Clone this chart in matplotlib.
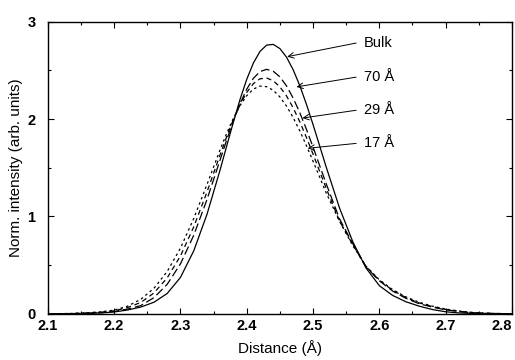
import matplotlib
matplotlib.use("Agg")
import matplotlib.pyplot as plt
from matplotlib.ticker import MultipleLocator

plt.rcParams['font.family'] = ['Liberation Sans', 'DejaVu Sans']

# distance grid (Angstrom), finer around the peak
distance = [2.10, 2.12, 2.14, 2.16, 2.18, 2.20, 2.22, 2.24, 2.26, 2.28,
            2.30, 2.32, 2.34,
            2.36, 2.37, 2.38, 2.39, 2.40, 2.41, 2.42, 2.43, 2.44, 2.45,
            2.46, 2.47, 2.48, 2.49, 2.50, 2.51, 2.52,
            2.54, 2.56, 2.58, 2.60, 2.62, 2.64, 2.66, 2.68, 2.70, 2.72,
            2.74, 2.76, 2.78, 2.80]

# normalised intensities
bulk = [0.0, 0.001, 0.002, 0.005, 0.010, 0.020, 0.040, 0.070, 0.120, 0.210,
        0.375, 0.647, 1.022,
        1.483, 1.730, 1.973, 2.204, 2.408, 2.575, 2.694, 2.759, 2.766, 2.723,
        2.635, 2.506, 2.343, 2.152, 1.943, 1.724, 1.504,
        1.086, 0.740, 0.470, 0.290, 0.190, 0.125, 0.080, 0.045, 0.022, 0.010,
        0.005, 0.002, 0.001, 0.0]

a70 = [0.0, 0.001, 0.003, 0.007, 0.013, 0.025, 0.050, 0.085, 0.167, 0.304,
       0.514, 0.807, 1.174,
       1.585, 1.790, 1.985, 2.160, 2.307, 2.418, 2.487, 2.510, 2.490, 2.433,
       2.340, 2.215, 2.065, 1.895, 1.712, 1.522, 1.333,
       0.975, 0.720, 0.480, 0.340, 0.235, 0.160, 0.105, 0.070, 0.042, 0.024,
       0.012, 0.006, 0.003, 0.001]

a29 = [0.0, 0.002, 0.005, 0.010, 0.018, 0.032, 0.065, 0.117, 0.215, 0.370,
       0.595, 0.893, 1.251,
       1.637, 1.824, 1.998, 2.150, 2.274, 2.363, 2.413, 2.421, 2.393, 2.330,
       2.237, 2.115, 1.972, 1.811, 1.640, 1.463, 1.286,
       0.952, 0.710, 0.485, 0.345, 0.243, 0.168, 0.113, 0.075, 0.046, 0.027,
       0.014, 0.007, 0.004, 0.002]

a17 = [0.001, 0.003, 0.006, 0.012, 0.022, 0.039, 0.079, 0.149, 0.263, 0.436,
       0.675, 0.979, 1.328,
       1.689, 1.858, 2.010, 2.140, 2.240, 2.308, 2.338, 2.332, 2.295, 2.227,
       2.133, 2.015, 1.879, 1.727, 1.567, 1.403, 1.239,
       0.950, 0.700, 0.490, 0.350, 0.250, 0.175, 0.120, 0.080, 0.050, 0.030,
       0.015, 0.008, 0.004, 0.002]

xticks = [2.1, 2.2, 2.3, 2.4, 2.5, 2.6, 2.7, 2.8]
xtick_labels = ['2.1', '2.2', '2.3', '2.4', '2.5', '2.6', '2.7', '2.8']
yticks = [0, 1, 2, 3]

# label text, where the arrow points, and text height
labels = ['Bulk', '70 Å', '29 Å', '17 Å']
arrow_x = [2.461, 2.475, 2.484, 2.492]
arrow_y = [2.64, 2.33, 2.01, 1.70]
text_y = [2.78, 2.43, 2.09, 1.75]

fig = plt.figure(figsize=(5.15, 3.6), dpi=100)
ax = fig.add_axes([0.093, 0.128, 0.901, 0.812])

ax.plot(distance, bulk, color='black', lw=0.9)
ax.plot(distance, a70, color='black', lw=0.9, dashes=(7, 3))
ax.plot(distance, a29, color='black', lw=0.9, dashes=(4, 3))
ax.plot(distance, a17, color='black', lw=0.9, dashes=(2, 2.5))

for lab, ax_x, ax_y, ty in zip(labels, arrow_x, arrow_y, text_y):
    ax.annotate('', xy=(ax_x, ax_y), xytext=(2.565, ty),
                arrowprops=dict(arrowstyle='->', color='black', lw=0.7,
                                shrinkA=0, shrinkB=0))
    ax.text(2.577, ty, lab, fontsize=10.5, va='center', ha='left')

ax.set_xlim(2.1, 2.8)
ax.set_ylim(0, 3)
ax.set_xticks(xticks)
ax.set_xticklabels(xtick_labels, fontsize=10.5, fontweight='bold')
ax.set_yticks(yticks)
ax.set_yticklabels([str(v) for v in yticks], fontsize=10.5, fontweight='bold')
ax.xaxis.set_minor_locator(MultipleLocator(0.05))
ax.yaxis.set_minor_locator(MultipleLocator(0.5))
ax.tick_params(which='both', direction='in', top=True, right=True, width=0.8)
ax.tick_params(which='major', length=4)
ax.tick_params(which='minor', length=2)
ax.tick_params(axis='x', pad=4)
ax.tick_params(axis='y', pad=9)

# move last x label inside the figure like the original
ax.get_xticklabels()[-1].set_horizontalalignment('right')

for s in ax.spines.values():
    s.set_linewidth(1.0)

ax.set_xlabel('Distance (Å)', fontsize=11, labelpad=5)
ax.set_ylabel('Norm. intensity (arb. units)', fontsize=11, labelpad=3)

plt.savefig('out.png', dpi=100)
